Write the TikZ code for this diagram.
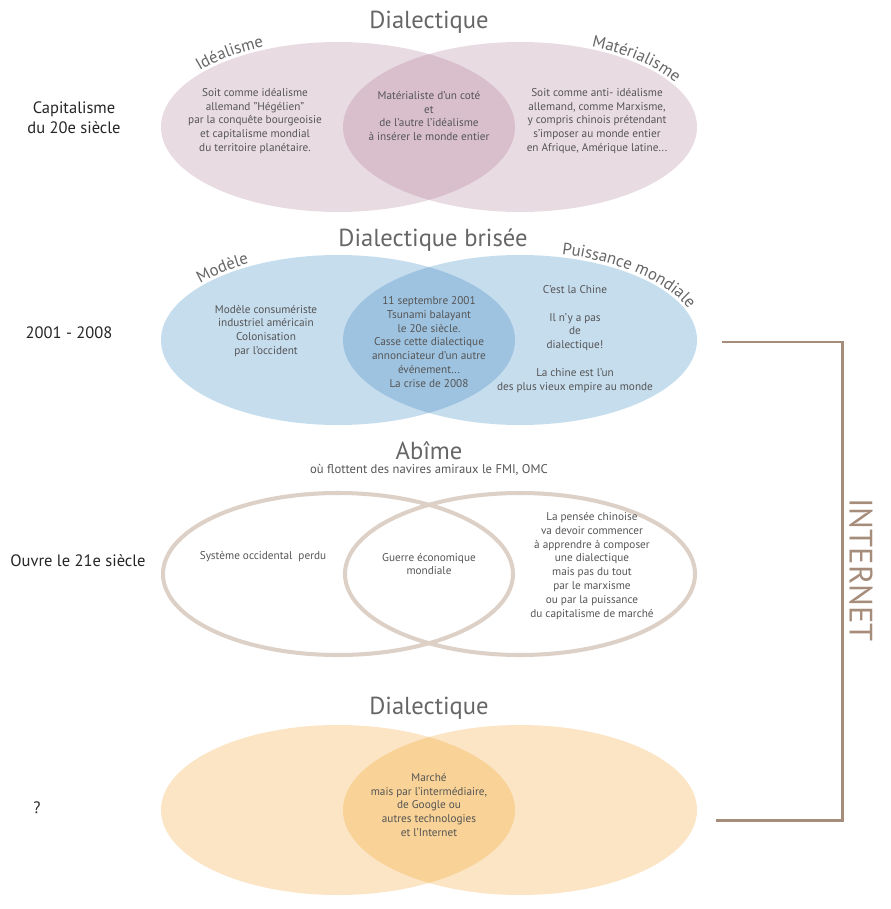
\documentclass[tikz,border=0pt]{standalone}
\usepackage{fontspec}
\setmainfont{PT Sans}
\usetikzlibrary{decorations.text}
\definecolor{rosea}{HTML}{E9DBE2}
\definecolor{roseb}{HTML}{D9BFCC}
\definecolor{bleua}{HTML}{C6DDEE}
\definecolor{bleub}{HTML}{9EC3E0}
\definecolor{sable}{HTML}{DDD0C6}
\definecolor{oranga}{HTML}{FCE5C4}
\definecolor{orangb}{HTML}{F8D296}
\definecolor{brun}{HTML}{A68C7A}
\definecolor{gristxt}{HTML}{555555}
\definecolor{gristit}{HTML}{666666}

\begin{document}
\begin{tikzpicture}[x=0.02cm,y=-0.02cm,title/.style={text=gristit,font=\fontsize{14}{16}\selectfont},txt/.style={text=gristxt,font=\fontsize{6.4}{7.9}\selectfont,align=center},side/.style={text=black!85,font=\fontsize{9.4}{11.3}\selectfont,align=center},arclbl/.style={decorate,decoration={text along path,text align=center,text color=gristit}}]
\useasboundingbox (0,0) rectangle (890,909);

% Dialectique
\fill[rosea] (338,127) ellipse [x radius=177,y radius=85];
\fill[rosea] (520,127) ellipse [x radius=177,y radius=85];
\begin{scope}
\clip (338,127) ellipse [x radius=177,y radius=85];
\fill[roseb] (520,127) ellipse [x radius=177,y radius=85];
\end{scope}
\node[title] (t1) at (429,22) {Dialectique};
\path[arclbl,decoration={text={|\fontsize{9.5}{10}\selectfont|Idéalisme}}] (188.8,77.8) arc[start angle=-146,end angle=-110,x radius=180,y radius=88];
\path[arclbl,decoration={text={|\fontsize{9.5}{10}\selectfont|Matérialisme}}] (587.4,45.4) arc[start angle=-68,end angle=-28,x radius=180,y radius=88];
\node[side] (s1) at (74,118) {Capitalisme\\du 20e siècle};
\node[txt] (a1) at (255,121) {Soit comme idéalisme\\allemand "Hégélien"\\par la conquête bourgeoisie\\et capitalisme mondial\\du territoire planétaire.};
\node[txt] (b1) at (429,116) {Matérialiste d'un coté\\et\\de l'autre l'idéalisme\\à insérer le monde entier};
\node[txt] (c1) at (597,121) {Soit comme anti- idéalisme\\allemand, comme Marxisme,\\y compris chinois prétendant\\s'imposer au monde entier\\en Afrique, Amérique latine...};

% Dialectique brisee
\fill[bleua] (338,340) ellipse [x radius=177,y radius=85];
\fill[bleua] (520,340) ellipse [x radius=177,y radius=85];
\begin{scope}
\clip (338,340) ellipse [x radius=177,y radius=85];
\fill[bleub] (520,340) ellipse [x radius=177,y radius=85];
\end{scope}
\node[title] (t2) at (433,240) {Dialectique brisée};
\path[arclbl,decoration={text={|\fontsize{9.5}{10}\selectfont|Modèle}}] (182.1,296) arc[start angle=-150,end angle=-112,x radius=180,y radius=88];
\path[arclbl,decoration={text={|\fontsize{9.5}{10}\selectfont|Puissance mondiale}}] (557.4,253.9) arc[start angle=-78,end angle=-18,x radius=180,y radius=88];
\node[side] (s2) at (69,333) {2001 - 2008};
\node[txt] (a2) at (266,331) {Modèle consumériste\\industriel américain\\Colonisation\\par l'occident};
\node[txt] (b2) at (429,342) {11 septembre 2001\\Tsunami balayant\\le 20e siècle.\\Casse cette dialectique\\annonciateur d'un autre\\événement...\\La crise de 2008};
\node[txt] (c2) at (575,339) {C'est la Chine\\[8pt]Il n'y a pas\\de\\dialectique!\\[8pt]La chine est l'un\\des plus vieux empire au monde};

% Abime
\draw[sable,line width=2.3pt] (338,574) ellipse [x radius=175,y radius=81];
\draw[sable,line width=2.3pt] (520,574) ellipse [x radius=175,y radius=81];
\node[title] (t3) at (429,451) {Abîme};
\node[text=gristxt,font=\fontsize{7.2}{9}\selectfont] (u3) at (429,470) {où flottent des navires amiraux le FMI, OMC};
\node[side] (s3) at (78,561) {Ouvre le 21e siècle};
\node[txt] (a3) at (263,557) {Système occidental~ perdu};
\node[txt] (b3) at (429,564) {Guerre économique\\mondiale};
\node[txt] (c3) at (592,566) {La pensée chinoise\\va devoir commencer\\à apprendre à composer\\une dialectique\\mais pas du tout\\par le marxisme\\ou par la puissance\\du capitalisme de marché};

% Dialectique (bas)
\fill[oranga] (338,810) ellipse [x radius=177,y radius=85];
\fill[oranga] (520,810) ellipse [x radius=177,y radius=85];
\begin{scope}
\clip (338,810) ellipse [x radius=177,y radius=85];
\fill[orangb] (520,810) ellipse [x radius=177,y radius=85];
\end{scope}
\node[title] (t4) at (429,708) {Dialectique};
\node[side] (s4) at (37,808) {?};
\node[txt] (b4) at (429,805) {Marché\\mais par l'intermédiaire,\\de Google ou\\autres technologies\\et l'Internet};

% INTERNET
\coordinate (ia) at (722,342);
\coordinate (ib) at (842,342);
\coordinate (ic) at (842,820);
\coordinate (id) at (716,820);
\draw[brun,line width=1.7pt] (ia) -- (ib) -- (ic) -- (id);
\node[text=brun,font=\fontsize{18.5}{19}\selectfont,rotate=-90] (net) at (861,570) {INTERNET};
\end{tikzpicture}
\end{document}
